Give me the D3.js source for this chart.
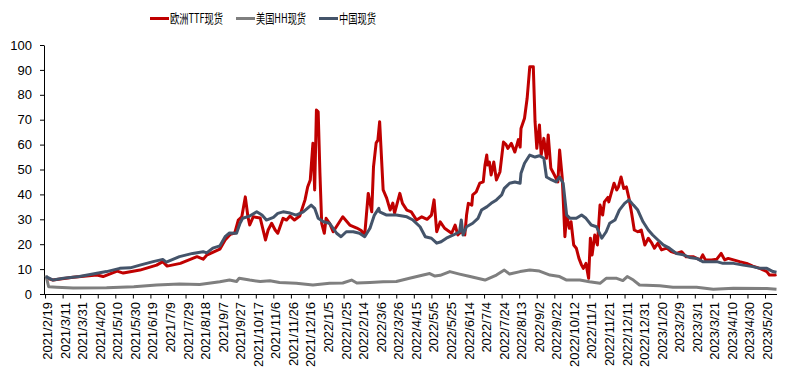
<!DOCTYPE html>
<html><head><meta charset="utf-8">
<script src="https://cdn.jsdelivr.net/npm/d3@7"></script>
<style>body{margin:0;background:#fff}svg{display:block}</style></head>
<body><svg id="c" width="792" height="377"></svg>
<script>
const seriesNames = ["欧洲TTF现货", "美国HH现货", "中国现货"];
const seriesColors = ["#C00000", "#7F7F7F", "#44546A"];
const yTicks = [0, 10, 20, 30, 40, 50, 60, 70, 80, 90, 100];
const xTickLabels = ["2021/2/19","2021/3/11","2021/3/31","2021/4/20","2021/5/10","2021/5/30","2021/6/19","2021/7/9","2021/7/29","2021/8/18","2021/9/7","2021/9/27","2021/10/17","2021/11/6","2021/11/26","2021/12/16","2022/1/5","2022/1/25","2022/2/14","2022/3/6","2022/3/26","2022/4/15","2022/5/5","2022/5/25","2022/6/14","2022/7/4","2022/7/24","2022/8/13","2022/9/2","2022/9/22","2022/10/12","2022/11/1","2022/11/21","2022/12/11","2022/12/31","2023/1/20","2023/2/9","2023/3/1","2023/3/21","2023/4/10","2023/4/30","2023/5/20"];

const ttf = [["2021-02-19",6.5],["2021-02-27",5.6],["2021-03-22",6.7],["2021-04-18",7.6],["2021-04-25",7.0],["2021-05-11",9.2],["2021-05-18",8.4],["2021-06-06",9.6],["2021-06-25",11.6],["2021-07-02",13],["2021-07-07",11.2],["2021-07-22",12.3],["2021-08-10",15],["2021-08-17",14],["2021-08-21",15.6],["2021-09-05",18],["2021-09-11",21.7],["2021-09-17",24],["2021-09-22",24.5],["2021-09-26",29.7],["2021-09-30",31],["2021-10-04",39],["2021-10-07",31],["2021-10-09",27.7],["2021-10-13",31],["2021-10-21",30.5],["2021-10-27",21.7],["2021-10-30",25.7],["2021-11-03",28.4],["2021-11-07",25.7],["2021-11-10",24.4],["2021-11-16",30.4],["2021-11-20",29.7],["2021-11-24",31.3],["2021-11-29",29.7],["2021-12-05",31.3],["2021-12-11",37.8],["2021-12-14",43],["2021-12-17",45.8],["2021-12-20",60.5],["2021-12-22",41.8],["2021-12-24",73.9],["2021-12-26",73.2],["2021-12-28",48.5],["2021-12-30",28.4],["2022-01-02",24.4],["2022-01-04",30.4],["2022-01-08",28.4],["2022-01-12",25],["2022-01-17",27.7],["2022-01-23",31],["2022-01-31",27.7],["2022-02-08",26.5],["2022-02-13",25.5],["2022-02-17",23.7],["2022-02-21",40.4],["2022-02-25",33],["2022-02-27",51],["2022-03-02",60.6],["2022-03-04",61.8],["2022-03-06",69.2],["2022-03-10",41.8],["2022-03-14",38.5],["2022-03-18",33.7],["2022-03-21",36.5],["2022-03-23",32.5],["2022-03-29",40.4],["2022-04-01",36.4],["2022-04-06",33.7],["2022-04-11",33],["2022-04-17",29.7],["2022-04-23",31],["2022-04-29",30],["2022-05-04",31.7],["2022-05-07",37.8],["2022-05-10",25],["2022-05-14",29],["2022-05-19",26.4],["2022-05-27",24.4],["2022-05-31",27.7],["2022-06-03",23.7],["2022-06-07",25],["2022-06-11",23.7],["2022-06-13",31.7],["2022-06-15",36.4],["2022-06-19",35.7],["2022-06-20",39.8],["2022-06-24",41],["2022-06-28",44.5],["2022-07-02",45],["2022-07-04",51.8],["2022-07-06",55.8],["2022-07-07",51.8],["2022-07-09",53],["2022-07-11",47.8],["2022-07-14",53],["2022-07-17",45.8],["2022-07-21",49],["2022-07-25",61],["2022-07-28",60],["2022-07-30",58.5],["2022-08-03",60.5],["2022-08-07",57],["2022-08-11",62],["2022-08-13",59],["2022-08-14",66.5],["2022-08-18",70.6],["2022-08-21",78.6],["2022-08-24",91.3],["2022-08-28",91.3],["2022-08-30",69.2],["2022-09-01",58.5],["2022-09-04",67.9],["2022-09-06",55.8],["2022-09-09",62.5],["2022-09-12",54.5],["2022-09-14",63.9],["2022-09-17",50.5],["2022-09-20",48.5],["2022-09-25",45],["2022-09-27",57.8],["2022-09-30",46.5],["2022-10-03",23],["2022-10-05",31.7],["2022-10-08",26.4],["2022-10-10",29],["2022-10-13",19.7],["2022-10-16",18.4],["2022-10-19",14.3],["2022-10-22",11.6],["2022-10-24",10.3],["2022-10-27",12.3],["2022-10-30",6.3],["2022-11-01",22.4],["2022-11-03",15.7],["2022-11-06",23.7],["2022-11-09",19.7],["2022-11-12",35.7],["2022-11-15",31.7],["2022-11-17",37],["2022-11-21",38.8],["2022-11-22",37],["2022-11-28",44.5],["2022-12-01",41.8],["2022-12-03",43],["2022-12-06",47],["2022-12-09",42.4],["2022-12-12",43],["2022-12-15",38.4],["2022-12-18",32.4],["2022-12-21",25.7],["2022-12-25",25],["2022-12-29",25.7],["2023-01-02",19.7],["2023-01-06",22.4],["2023-01-10",20.4],["2023-01-13",18.4],["2023-01-17",20.4],["2023-01-21",17.7],["2023-01-27",18.4],["2023-02-01",17],["2023-02-07",16.3],["2023-02-13",17],["2023-02-18",15],["2023-02-26",15],["2023-03-06",13.7],["2023-03-09",15.7],["2023-03-12",13.7],["2023-03-19",13.7],["2023-03-25",14],["2023-03-30",16.3],["2023-04-03",13.7],["2023-04-07",14.3],["2023-04-13",13.7],["2023-04-20",13],["2023-04-28",12.3],["2023-05-05",11.2],["2023-05-13",10.3],["2023-05-21",9],["2023-05-24",7.6],["2023-05-30",7.6],["2023-06-01",7.8]];

const hh = [["2021-02-19",7.5],["2021-02-22",2.9],["2021-03-03",2.7],["2021-03-22",2.4],["2021-04-29",2.5],["2021-05-30",2.9],["2021-06-25",3.6],["2021-07-21",4.0],["2021-08-13",3.8],["2021-09-05",4.9],["2021-09-16",5.6],["2021-09-24",5.0],["2021-09-27",6.3],["2021-10-09",5.6],["2021-10-21",5.0],["2021-11-01",5.3],["2021-11-12",4.6],["2021-12-01",4.3],["2021-12-20",3.6],["2022-01-08",4.3],["2022-01-23",4.4],["2022-02-02",5.6],["2022-02-08",4.4],["2022-02-23",4.6],["2022-03-10",4.9],["2022-03-25",5.0],["2022-04-09",6.3],["2022-04-21",7.3],["2022-05-02",8.2],["2022-05-08",7.2],["2022-05-14",7.5],["2022-05-25",9.0],["2022-06-05",8.0],["2022-06-17",7.0],["2022-07-04",5.6],["2022-07-17",7.6],["2022-07-26",9.6],["2022-08-01",8.0],["2022-08-13",9.0],["2022-08-24",9.6],["2022-09-04",9.2],["2022-09-16",7.6],["2022-09-27",7.0],["2022-10-05",5.6],["2022-10-20",5.6],["2022-10-31",4.9],["2022-11-12",4.3],["2022-11-19",6.3],["2022-12-01",6.3],["2022-12-08",5.4],["2022-12-13",7.0],["2022-12-20",5.6],["2022-12-27",3.6],["2023-01-19",3.3],["2023-02-03",2.7],["2023-03-02",2.7],["2023-03-21",1.9],["2023-04-13",2.3],["2023-05-21",2.2],["2023-06-01",1.9]];

const cn = [["2021-02-19",7],["2021-02-27",5.6],["2021-03-11",6.3],["2021-03-29",7],["2021-04-18",8.3],["2021-04-29",9],["2021-05-14",10.3],["2021-05-26",10.5],["2021-06-06",11.6],["2021-06-21",13],["2021-07-02",13.9],["2021-07-06",12.8],["2021-07-21",15],["2021-08-05",16.3],["2021-08-17",17],["2021-08-21",16.5],["2021-08-28",18.4],["2021-09-05",19.3],["2021-09-11",23],["2021-09-16",24.5],["2021-09-24",24.4],["2021-09-28",28.4],["2021-10-01",30.4],["2021-10-09",31.3],["2021-10-17",33],["2021-10-23",31.7],["2021-10-28",29.7],["2021-11-05",30.8],["2021-11-10",32.4],["2021-11-16",33],["2021-11-24",32.5],["2021-12-01",31.7],["2021-12-09",33],["2021-12-18",35.7],["2021-12-22",34.4],["2021-12-26",30.4],["2022-01-01",29],["2022-01-08",28.4],["2022-01-16",24.4],["2022-01-21",23],["2022-01-27",25],["2022-02-04",25],["2022-02-11",24.4],["2022-02-17",23],["2022-02-23",26.4],["2022-02-28",31.7],["2022-03-05",34.4],["2022-03-06",33],["2022-03-14",31.7],["2022-03-25",31.7],["2022-04-06",31],["2022-04-13",29.7],["2022-04-21",27],["2022-04-27",23],["2022-05-04",22.4],["2022-05-10",20.4],["2022-05-15",21],["2022-05-21",22.4],["2022-05-29",23.7],["2022-06-05",25],["2022-06-07",29.7],["2022-06-09",23.7],["2022-06-13",27],["2022-06-20",28.4],["2022-06-26",30.4],["2022-06-30",33.7],["2022-07-06",35],["2022-07-11",36.4],["2022-07-17",37.8],["2022-07-23",39.8],["2022-07-26",42.4],["2022-08-01",44.5],["2022-08-07",45],["2022-08-13",44.5],["2022-08-14",48.5],["2022-08-18",52.5],["2022-08-24",55.8],["2022-08-30",55],["2022-09-04",55.5],["2022-09-09",54.5],["2022-09-12",47],["2022-09-18",45.8],["2022-09-23",45],["2022-09-27",47],["2022-10-01",44.5],["2022-10-05",31.7],["2022-10-09",30.4],["2022-10-16",30.4],["2022-10-22",31.7],["2022-10-27",30.4],["2022-11-02",27.7],["2022-11-08",27],["2022-11-14",22.4],["2022-11-19",25],["2022-11-23",28.4],["2022-11-29",29.7],["2022-12-04",33.7],["2022-12-10",36.4],["2022-12-15",37.8],["2022-12-20",35.7],["2022-12-25",33.7],["2022-12-31",29],["2023-01-06",25.7],["2023-01-11",23.7],["2023-01-17",21.7],["2023-01-23",19.7],["2023-01-30",18.4],["2023-02-07",16.3],["2023-02-15",15.7],["2023-02-22",14.7],["2023-03-02",14.3],["2023-03-09",13],["2023-03-25",13],["2023-04-01",12.3],["2023-04-13",12.3],["2023-04-24",11.6],["2023-05-05",11],["2023-05-13",10.3],["2023-05-21",10.3],["2023-05-28",9],["2023-06-01",8.7]];

const parse = d3.utcParse("%Y-%m-%d");
const parseTick = d3.utcParse("%Y/%m/%d");
const svg = d3.select("#c");
const x = d3.scaleUtc().domain([parse("2021-02-19"), parse("2023-06-01")]).range([46, 776.5]);
const y = d3.scaleLinear().domain([0, 100]).range([294, 45]);
const halfDay = (x(parse("2021-02-20")) - x(parse("2021-02-19"))) / 2;

// y axis
const yAxis = svg.append("g").attr("transform", "translate(44,0)")
  .call(d3.axisLeft(y).tickValues(yTicks).tickSize(4).tickSizeOuter(0).tickPadding(8));
yAxis.selectAll("text").attr("font-family", "Liberation Sans, Arial, sans-serif").attr("font-size", 13).attr("fill", "#000");
yAxis.selectAll("line,path").attr("stroke", "#000");

// lines
const line = d3.line().x(d => x(parse(d[0]))).y(d => y(d[1]));
[ttf, hh, cn].forEach((s, i) => {
  svg.append("path").datum(s).attr("d", line).attr("fill", "none")
    .attr("stroke", seriesColors[i]).attr("stroke-width", 3).attr("stroke-linejoin", "round");
});

// x axis
const xa = svg.append("g");
xa.append("line").attr("x1", 44).attr("x2", 777).attr("y1", 294.5).attr("y2", 294.5).attr("stroke", "#000");
xTickLabels.forEach(l => {
  const px = x(parseTick(l));
  xa.append("line").attr("x1", px - halfDay).attr("x2", px - halfDay).attr("y1", 294.5).attr("y2", 298.5).attr("stroke", "#000");
  xa.append("text").attr("transform", `translate(${px + 1.5},302) rotate(-90)`)
    .attr("text-anchor", "end").attr("dy", "0.35em")
    .attr("font-family", "Liberation Sans, Arial, sans-serif").attr("font-size", 13).attr("fill", "#000").text(l);
});

// legend
const legendX = [150, 236, 319];
const legendTextW = [53, 50, 37];
seriesNames.forEach((n, i) => {
  const g = svg.append("g").attr("transform", `translate(${legendX[i]},18.5)`);
  g.append("line").attr("x1", 0).attr("x2", 19).attr("stroke", seriesColors[i]).attr("stroke-width", 3);
  g.append("text").attr("x", 20).attr("dy", "0.36em").attr("font-family", "Noto Sans CJK SC, sans-serif")
    .attr("font-size", 13).attr("textLength", legendTextW[i]).attr("lengthAdjust", "spacingAndGlyphs")
    .attr("fill", "#000").text(n);
});
</script></body></html>
